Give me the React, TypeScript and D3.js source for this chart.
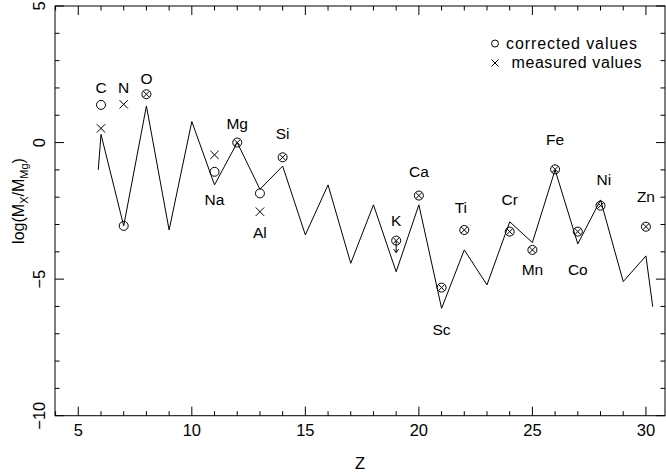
import React from "react";
import * as d3 from "d3";

// Model line (odd-even pattern)
const lineZ = [5.88, 6, 7, 8, 9, 10, 11, 12, 13, 14, 15, 16, 17, 18, 19, 20, 21, 22, 23, 24, 25, 26, 27, 28, 29, 30, 30.3];
const lineVal = [-1.0, 0.3, -3.05, 1.34, -3.2, 0.77, -1.55, 0.0, -1.71, -0.86, -3.38, -1.55, -4.42, -2.28, -4.73, -2.28, -6.07, -3.93, -5.21, -2.9, -3.66, -1.0, -3.71, -2.1, -5.09, -4.15, -6.01];

// Elements
const elements = ["C", "N", "O", "Na", "Mg", "Al", "Si", "K", "Ca", "Sc", "Ti", "Cr", "Mn", "Fe", "Co", "Ni", "Zn"];
const elemZ = [6, 7, 8, 11, 12, 13, 14, 19, 20, 21, 22, 24, 25, 26, 27, 28, 30];
const corrected = [1.38, -3.05, 1.77, -1.07, 0.0, -1.86, -0.54, -3.59, -1.94, -5.31, -3.2, -3.26, -3.93, -0.98, -3.26, -2.31, -3.08];
const measured = [0.52, 1.4, 1.77, -0.45, 0.0, -2.53, -0.54, -3.59, -1.94, -5.31, -3.2, -3.26, -3.93, -0.98, -3.26, -2.31, -3.08];
const upperLimit = ["K"];
// label anchor (data units)
const labelZ = [6, 7, 8, 11, 12, 13, 14, 19, 20, 21, 21.85, 24, 25, 26, 27, 28.15, 30];
const labelVal = [2.02, 2.02, 2.35, -2.1, 0.71, -3.3, 0.34, -2.86, -1.07, -6.84, -2.37, -2.1, -4.66, 0.12, -4.66, -1.37, -1.96];

const xMajor = [5, 10, 15, 20, 25, 30];
const yMajor = [5, 0, -5, -10];
const legendLabels = ["corrected values", "measured values"];

const W = 666, H = 475;
const L = 55, R = 665, T = 6, B = 415.7;
const FONT = "'Liberation Sans', Arial, sans-serif";

export default function App() {
  const x = d3.scaleLinear().domain([3.974, 30.84]).range([L, R]);
  const y = d3.scaleLinear().domain([-10, 5]).range([B, T]);
  const line = d3.line<number>().x((_, i) => x(lineZ[i])).y((d) => y(d));

  const xMinor = d3.range(4, 31, 1);
  const yMinor = d3.range(-10, 6, 1);

  const cross = (cx: number, cy: number, h: number, key: string) => (
    <path key={key} d={`M${cx - h},${cy - h}L${cx + h},${cy + h}M${cx - h},${cy + h}L${cx + h},${cy - h}`} stroke="#000" strokeWidth={1} fill="none" />
  );

  const fmt = (v: number) => (v < 0 ? "\u2212" + Math.abs(v) : String(v));

  return (
    <svg width={W} height={H} style={{ position: "absolute", left: 0, top: 0, background: "#fff" }} fontFamily={FONT}>
      <rect x={0} y={0} width={W} height={H} fill="#fff" />
      {/* frame */}
      <rect x={L} y={T} width={R - L} height={B - T} fill="none" stroke="#000" strokeWidth={1} />
      {/* x ticks */}
      {xMinor.map((v) => {
        const len = v % 5 === 0 ? 9 : 4.5;
        const px = x(v);
        return (
          <g key={"xt" + v}>
            <line x1={px} x2={px} y1={B} y2={B - len} stroke="#000" />
            <line x1={px} x2={px} y1={T} y2={T + len} stroke="#000" />
          </g>
        );
      })}
      {yMinor.map((v) => {
        const len = v % 5 === 0 ? 9 : 4.5;
        const py = y(v);
        return (
          <g key={"yt" + v}>
            <line x1={L} x2={L + len} y1={py} y2={py} stroke="#000" />
            <line x1={R} x2={R - len} y1={py} y2={py} stroke="#000" />
          </g>
        );
      })}
      {xMajor.map((v) => (
        <text key={"xl" + v} x={x(v)} y={430.5} dy="0.35em" textAnchor="middle" fontSize={16.5}>{v}</text>
      ))}
      {yMajor.map((v) => (
        <text key={"yl" + v} transform={`translate(39,${y(v)}) rotate(-90)`} dy="0.35em" textAnchor="middle" fontSize={16.5}>{fmt(v)}</text>
      ))}
      <text x={(L + R) / 2} y={463} dy="0.35em" textAnchor="middle" fontSize={16.5}>Z</text>
      <text transform={`translate(18,201) rotate(-90)`} dy="0.35em" textAnchor="middle" fontSize={16}>
        log(M<tspan fontSize={11} dy="4">X</tspan><tspan dy="-4">/M</tspan><tspan fontSize={11} dy="4">Mg</tspan><tspan dy="-4">)</tspan>
      </text>

      {/* model line */}
      <path d={line(lineVal) || ""} fill="none" stroke="#000" strokeWidth={1} />

      {/* markers */}
      {elements.map((el, i) => {
        const cx = x(elemZ[i]);
        const cyC = y(corrected[i]);
        const cyM = y(measured[i]);
        const same = Math.abs(corrected[i] - measured[i]) < 1e-6;
        return (
          <g key={"m" + el}>
            <circle cx={cx} cy={cyC} r={4.5} fill="none" stroke="#000" strokeWidth={1} />
            {same ? cross(cx, cyM, 3.1, "c" + el) : cross(cx, cyM, 4.2, "c" + el)}
            {upperLimit.includes(el) && (
              <path d={`M${cx},${cyM}L${cx},${cyM + 12}M${cx - 2.5},${cyM + 8.5}L${cx},${cyM + 12}L${cx + 2.5},${cyM + 8.5}`} stroke="#000" fill="none" strokeWidth={1} />
            )}
            <text x={x(labelZ[i])} y={y(labelVal[i])} dy="0.35em" textAnchor="middle" fontSize={15.5}>{el}</text>
          </g>
        );
      })}

      {/* legend */}
      <circle cx={495} cy={43.5} r={3.5} fill="none" stroke="#000" />
      <text x={506} y={43.5} dy="0.35em" fontSize={16} textLength={131} lengthAdjust="spacing">{legendLabels[0]}</text>
      {cross(495, 63, 3.5, "lgx")}
      <text x={511.5} y={62} dy="0.35em" fontSize={16} textLength={130} lengthAdjust="spacing">{legendLabels[1]}</text>
    </svg>
  );
}
